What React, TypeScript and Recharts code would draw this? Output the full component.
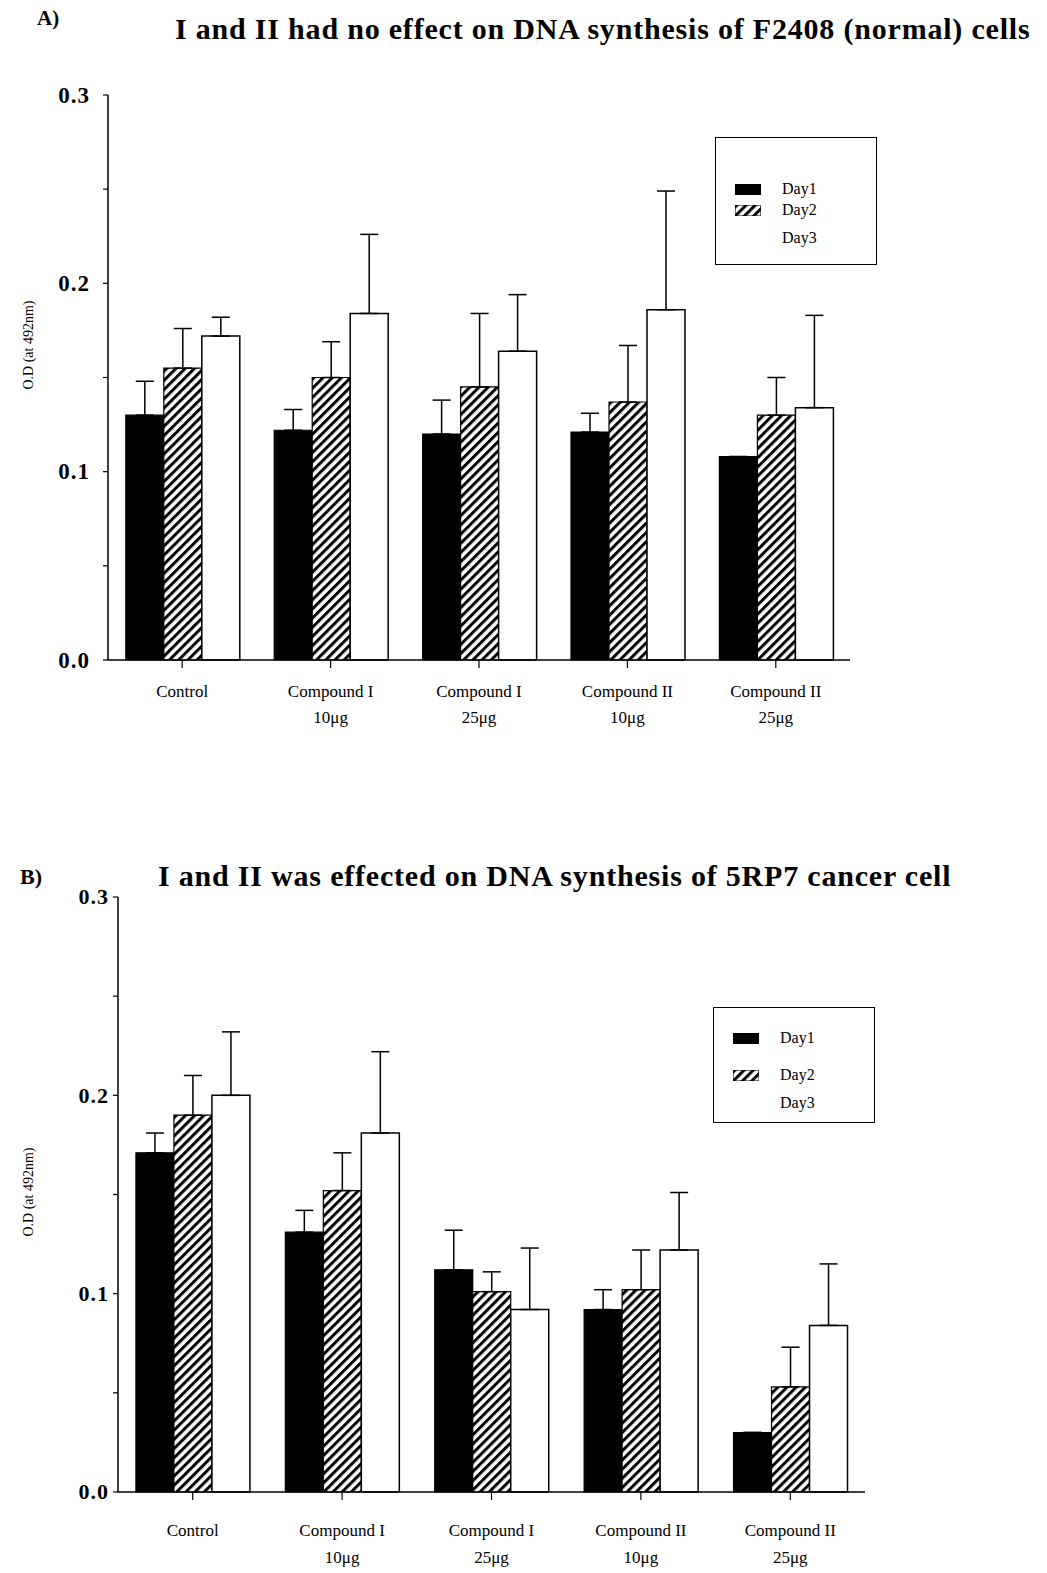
import { BarChart, Bar, XAxis, YAxis, ErrorBar } from "recharts";

const categories = ["Control", "Compound I", "Compound I", "Compound II", "Compound II"];
const doses = ["", "10μg", "25μg", "10μg", "25μg"];
const days = ["Day1", "Day2", "Day3"];
const yTicks = [0, 0.05, 0.1, 0.15, 0.2, 0.25, 0.3];

// A) F2408 normal cells
const aDay1 = [0.13, 0.122, 0.12, 0.121, 0.108];
const aDay1Err = [0.018, 0.011, 0.018, 0.01, 0];
const aDay2 = [0.155, 0.15, 0.145, 0.137, 0.13];
const aDay2Err = [0.021, 0.019, 0.039, 0.03, 0.02];
const aDay3 = [0.172, 0.184, 0.164, 0.186, 0.134];
const aDay3Err = [0.01, 0.042, 0.03, 0.063, 0.049];

// B) 5RP7 cancer cells
const bDay1 = [0.171, 0.131, 0.112, 0.092, 0.03];
const bDay1Err = [0.01, 0.011, 0.02, 0.01, 0];
const bDay2 = [0.19, 0.152, 0.101, 0.102, 0.053];
const bDay2Err = [0.02, 0.019, 0.01, 0.02, 0.02];
const bDay3 = [0.2, 0.181, 0.092, 0.122, 0.084];
const bDay3Err = [0.032, 0.041, 0.031, 0.029, 0.031];

const FONT = "'Liberation Serif', 'Times New Roman', serif";

const buildRows = (
  d1: number[], e1: number[], d2: number[], e2: number[], d3: number[], e3: number[]
) =>
  categories.map((c, i) => ({
    name: doses[i] ? `${c} ${doses[i]}` : c,
    day1: d1[i],
    day1Err: [0, e1[i]],
    day2: d2[i],
    day2Err: [0, e2[i]],
    day3: d3[i],
    day3Err: [0, e3[i]],
  }));

const rowsA = buildRows(aDay1, aDay1Err, aDay2, aDay2Err, aDay3, aDay3Err);
const rowsB = buildRows(bDay1, bDay1Err, bDay2, bDay2Err, bDay3, bDay3Err);

const makeXTick = (dy: number, lineGap: number) => (props: any) => {
  const { x, y, index } = props;
  return (
    <text x={x} y={y} textAnchor="middle" fontFamily={FONT} fontSize={17} fill="#000">
      <tspan x={x} dy={dy}>{categories[index]}</tspan>
      {doses[index] ? <tspan x={x} dy={lineGap}>{doses[index]}</tspan> : null}
    </text>
  );
};

const makeYTick = (size: number) => (props: any) => {
  const { x, y, payload } = props;
  const v = payload.value as number;
  if (Math.abs(v * 10 - Math.round(v * 10)) > 1e-6) return <g />;
  return (
    <text x={x} y={y} dy={size * 0.33} textAnchor="end" fontFamily={FONT} fontSize={size} fontWeight="bold" letterSpacing={1} fill="#000">
      {v.toFixed(1)}
    </text>
  );
};

const makeYLabel = (cx: number, cy: number) => () => (
  <text
    x={cx}
    y={cy}
    transform={`rotate(-90 ${cx} ${cy})`}
    textAnchor="middle"
    dominantBaseline="middle"
    fontFamily={FONT}
    fontSize={14}
    fill="#000"
  >
    O.D (at 492nm)
  </text>
);

type PanelProps = {
  rows: ReturnType<typeof buildRows>;
  top: number;
  height: number;
  margin: { top: number; right: number; bottom: number; left: number };
  tickGap: number;
  tickFont: number;
  xDy: number;
  xGap: number;
  labelCx: number;
  labelCy: number;
};

const Panel = ({ rows, top, height, margin, tickGap, tickFont, xDy, xGap, labelCx, labelCy }: PanelProps) => (
  <div style={{ position: "absolute", left: 0, top }}>
    <BarChart width={1047} height={height} data={rows} margin={margin} barCategoryGap="12%" barGap={0}>
      <XAxis
        dataKey="name"
        height={60}
        interval={0}
        tickSize={8}
        axisLine={{ stroke: "#000", strokeWidth: 1.5 }}
        tickLine={{ stroke: "#000", strokeWidth: 1.2 }}
        tick={makeXTick(xDy, xGap)}
      />
      <YAxis
        width={90}
        domain={[0, 0.3]}
        ticks={yTicks}
        interval={0}
        tickSize={5}
        tickMargin={tickGap}
        axisLine={{ stroke: "#000", strokeWidth: 1.5 }}
        tickLine={{ stroke: "#000", strokeWidth: 1.2 }}
        tick={makeYTick(tickFont)}
        label={makeYLabel(labelCx, labelCy)}
      />
      <Bar dataKey="day1" fill="#000" stroke="#000" strokeWidth={1.2} isAnimationActive={false}>
        <ErrorBar dataKey="day1Err" direction="y" width={9} stroke="#000" strokeWidth={1.5} />
      </Bar>
      <Bar dataKey="day2" fill="url(#hatch)" stroke="#000" strokeWidth={1.2} isAnimationActive={false}>
        <ErrorBar dataKey="day2Err" direction="y" width={9} stroke="#000" strokeWidth={1.5} />
      </Bar>
      <Bar dataKey="day3" fill="#fff" stroke="#000" strokeWidth={1.5} isAnimationActive={false}>
        <ErrorBar dataKey="day3Err" direction="y" width={9} stroke="#000" strokeWidth={1.5} />
      </Bar>
    </BarChart>
  </div>
);

const swatchFills = ["#000", "url(#hatch)", "none"];

const LegendBox = ({ left, top, height, rowYs }: { left: number; top: number; height: number; rowYs: number[] }) => (
  <div
    style={{
      position: "absolute",
      left,
      top,
      width: 162,
      height,
      border: "1.5px solid #000",
      fontFamily: FONT,
      fontSize: 16,
      boxSizing: "border-box",
    }}
  >
    {days.map((d, i) => (
      <div key={d} style={{ position: "absolute", left: 19, top: rowYs[i] - 10, height: 20, display: "flex", alignItems: "center" }}>
        <svg width={26} height={11} style={{ marginRight: 21 }}>
          {swatchFills[i] !== "none" && <rect x={0} y={0} width={26} height={11} fill={swatchFills[i]} stroke="#000" strokeWidth={1} />}
        </svg>
        <span>{d}</span>
      </div>
    ))}
  </div>
);

export default function App() {
  return (
    <div style={{ position: "relative", width: 1047, height: 1573, background: "#fff", fontFamily: FONT, overflow: "hidden" }}>
      <style>{`body{margin:0;background:#fff}`}</style>
      <svg width={0} height={0} style={{ position: "absolute" }}>
        <defs>
          <pattern id="hatch" patternUnits="userSpaceOnUse" width={6.5} height={6.5} patternTransform="rotate(45)">
            <rect x={0} y={0} width={6.5} height={6.5} fill="#fff" />
            <rect x={0} y={0} width={3} height={6.5} fill="#000" />
          </pattern>
        </defs>
      </svg>

      <div style={{ position: "absolute", left: 37, top: 6, fontSize: 21, fontWeight: "bold" }}>A)</div>
      <div
        style={{ position: "absolute", left: 175, top: 12, fontSize: 30, fontWeight: "bold", letterSpacing: 0.8, whiteSpace: "nowrap" }}
      >
        I and II had no effect on DNA synthesis of F2408 (normal) cells
      </div>
      <Panel
        rows={rowsA}
        top={0}
        height={760}
        margin={{ top: 95, right: 197, bottom: 40, left: 18 }}
        tickGap={13}
        tickFont={23}
        xDy={27}
        xGap={26}
        labelCx={30}
        labelCy={345}
      />
      <LegendBox left={715} top={137} height={128} rowYs={[51, 72, 100]} />

      <div style={{ position: "absolute", left: 20, top: 864, fontSize: 22, fontWeight: "bold" }}>B)</div>
      <div
        style={{ position: "absolute", left: 158, top: 859, fontSize: 30, fontWeight: "bold", letterSpacing: 0.8, whiteSpace: "nowrap" }}
      >
        I and II was effected on DNA synthesis of 5RP7 cancer cell
      </div>
      <Panel
        rows={rowsB}
        top={830}
        height={743}
        margin={{ top: 67, right: 182, bottom: 21, left: 28 }}
        tickGap={4}
        tickFont={22}
        xDy={34}
        xGap={27}
        labelCx={30}
        labelCy={362}
      />
      <LegendBox left={713} top={1007} height={116} rowYs={[30, 67, 95]} />
    </div>
  );
}
